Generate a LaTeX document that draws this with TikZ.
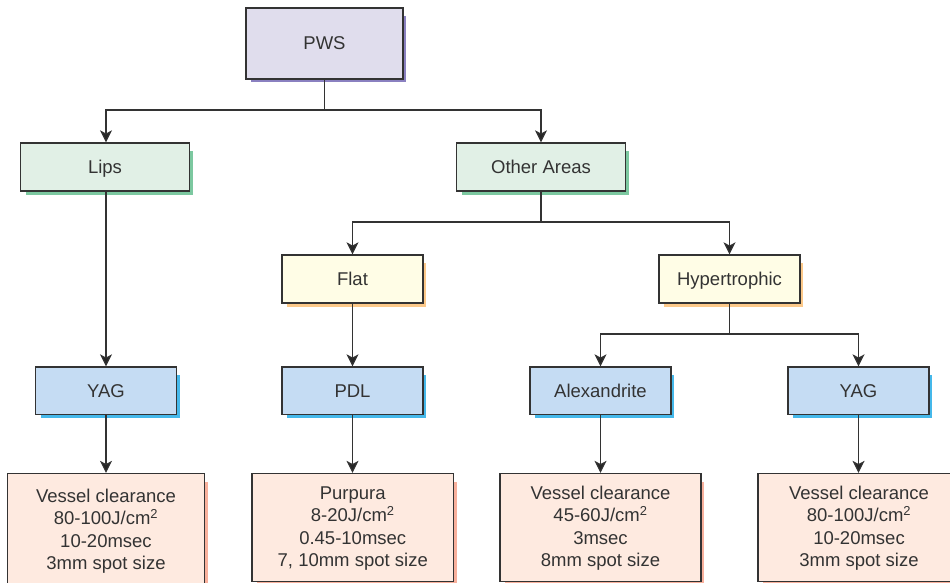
\documentclass[tikz,border=0pt]{standalone}
\usepackage{fontspec}
\setmainfont{Liberation Sans}
\usetikzlibrary{arrows.meta}
\definecolor{ink}{HTML}{333333}
\definecolor{purF}{HTML}{E0DDED}\definecolor{purS}{HTML}{8A80C0}
\definecolor{grnF}{HTML}{E1F0E6}\definecolor{grnS}{HTML}{7CC8A0}
\definecolor{yelF}{HTML}{FFFDE6}\definecolor{yelS}{HTML}{FCC98A}
\definecolor{bluF}{HTML}{C5DCF3}\definecolor{bluS}{HTML}{45B8EA}
\definecolor{pchF}{HTML}{FEEAE0}\definecolor{pchS}{HTML}{F8B09C}
\newcommand{\bx}[8]{% name,x1,y1,x2,y2,fill,shadow,text
  \fill[#7] (#2+5,#3+8) rectangle (#4+3,#5+3.5);
  \node[boxnode,fill=#6,minimum width={(#4)-(#2)},minimum height={(#5)-(#3)}] (#1) at ({((#2)+(#4))/2},{((#3)+(#5))/2}) {\rule{0pt}{19pt}#8\rule[-6pt]{0pt}{6pt}};
}
\tikzset{
  x=1pt,y=-1pt,
  boxnode/.style={draw=ink,line width=1.2pt,inner sep=0pt,align=center,text=ink,
    font=\fontsize{18.5}{22.5}\selectfont},
  conn/.style={draw=ink,line width=1.2pt},
  arr/.style={conn,-{Stealth[length=12pt,width=12pt,inset=3pt,fill=black!85]}},
}
\newcommand{\sq}{\textsuperscript{2}}
\newcommand{\up}{\rule[-8pt]{0pt}{8pt}}
\begin{document}
\begin{tikzpicture}
\useasboundingbox (0,0) rectangle (950,583);
\clip (0,0) rectangle (950,583);
\fill[white] (0,0) rectangle (950,583);
\bx{pws}{246}{8}{403}{79}{purF}{purS}{PWS}
\bx{lips}{20.5}{143}{189.5}{191}{grnF}{grnS}{Lips}
\bx{other}{456.5}{143}{625.5}{191}{grnF}{grnS}{Other Areas}
\bx{flat}{282}{255}{423}{303}{yelF}{yelS}{Flat}
\bx{hyper}{659}{255}{800}{303}{yelF}{yelS}{Hypertrophic}
\bx{yaga}{35.5}{367}{176.5}{414.5}{bluF}{bluS}{YAG}
\bx{pdl}{282}{367}{423}{414.5}{bluF}{bluS}{PDL}
\bx{alex}{530}{367}{671}{414.5}{bluF}{bluS}{Alexandrite}
\bx{yagb}{788}{367}{929}{414.5}{bluF}{bluS}{YAG}
\bx{va}{7.5}{473.5}{204.5}{587}{pchF}{pchS}{Vessel clearance\\80-100J/cm\sq\\10-20msec\\3mm spot size\up}
\bx{vb}{252}{473.5}{453.5}{581.5}{pchF}{pchS}{Purpura\\8-20J/cm\sq\\0.45-10msec\\7, 10mm spot size\up}
\bx{vc}{500}{473.5}{701}{581.5}{pchF}{pchS}{Vessel clearance\\45-60J/cm\sq\\3msec\\8mm spot size\up}
\bx{vd}{758}{473.5}{960}{581.5}{pchF}{pchS}{Vessel clearance\\80-100J/cm\sq\\10-20msec\\3mm spot size\up}
\coordinate (j1) at (pws.south |- 0,110);
\coordinate (j2) at (other.south |- 0,222);
\coordinate (j3) at (hyper.south |- 0,334);
\draw[conn] (pws.south) -- (j1);
\draw[arr] (j1) -| (yaga.north |- lips.north);
\draw[arr] (j1) -| (other.north);
\draw[conn] (other.south) -- (j2);
\draw[arr] (j2) -| (flat.north);
\draw[arr] (j2) -| (hyper.north);
\draw[conn] (hyper.south) -- (j3);
\draw[arr] (j3) -| (alex.north);
\draw[arr] (j3) -| (yagb.north);
\draw[arr] (yaga.north |- lips.south) -- (yaga.north);
\draw[arr] (flat.south) -- (pdl.north);
\draw[arr] (yaga.south) -- (yaga.south |- va.north);
\draw[arr] (pdl.south) -- (pdl.south |- vb.north);
\draw[arr] (alex.south) -- (alex.south |- vc.north);
\draw[arr] (yagb.south) -- (yagb.south |- vd.north);
\end{tikzpicture}
\end{document}
